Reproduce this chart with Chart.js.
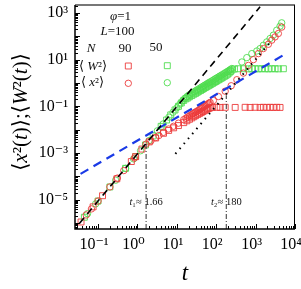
<!DOCTYPE html>
<html><head><meta charset="utf-8">
<script src="https://cdn.jsdelivr.net/npm/chart.js@4.4.0/dist/chart.umd.min.js"></script>
<style>html,body{margin:0;padding:0;background:#fff;overflow:hidden}</style>
</head><body>
<canvas id="c" width="301" height="289"></canvas>
<script>
// ---- tick labels ----
const xTickValues = [0.1, 1, 10, 100, 1000, 10000];
const xTickLabels = ['10⁻¹', '10⁰', '10¹', '10²', '10³', '10⁴'];
const yTickValues = [1e-5, 1e-3, 1e-1, 10, 1000];
const yTickLabels = ['10⁻⁵', '10⁻³', '10⁻¹', '10¹', '10³'];

// ---- N = 90 : <W^2> (red squares) ----
const tW2_90 = [0.037, 0.075, 0.13, 0.3, 0.7, 0.9, 1.3, 2.0, 2.9, 4.6, 6.2, 8.3, 11, 15, 18, 21, 24, 27, 30, 34, 38, 42, 46, 50, 55, 60, 65, 70, 80, 104, 126, 169, 303, 542, 726, 971, 1300, 1575, 1920, 2330, 2820, 3440, 4170];
const W2_90  = [1.1e-6, 4.9e-6, 1.47e-5, 7.8e-5, 4.3e-4, 7.0e-4, 1.47e-3, 3.0e-3, 4.4e-3, 7.0e-3, 9.3e-3, 0.012, 0.015, 0.02, 0.024, 0.028, 0.032, 0.036, 0.040, 0.045, 0.050, 0.055, 0.060, 0.065, 0.071, 0.077, 0.082, 0.087, 0.090, 0.091, 0.090, 0.091, 0.090, 0.091, 0.090, 0.091, 0.090, 0.091, 0.090, 0.091, 0.090, 0.091, 0.090];

// ---- N = 90 : <x^2> (red circles) ----
const tX2_90 = [0.05, 0.068, 0.1, 0.2, 0.31, 0.45, 0.84, 1.66, 2.2, 2.9, 3.5, 4.6, 6.2, 8.3, 11, 15, 17, 19, 21, 23, 25, 27, 29, 31, 34, 37, 40, 43, 46, 50, 54, 58, 62, 66, 70, 85, 114, 169, 240, 334, 491, 657, 879, 1178, 1575, 2109, 2570, 3120, 3780, 4600];
const X2_90  = [2.2e-6, 4.0e-6, 8.7e-6, 3.5e-5, 8.4e-5, 1.76e-4, 6.1e-4, 2.4e-3, 3.3e-3, 4.6e-3, 5.6e-3, 7.7e-3, 0.0107, 0.014, 0.019, 0.027, 0.031, 0.035, 0.039, 0.043, 0.047, 0.051, 0.055, 0.059, 0.065, 0.071, 0.078, 0.084, 0.091, 0.10, 0.109, 0.118, 0.128, 0.138, 0.148, 0.178, 0.264, 0.448, 0.766, 1.39, 2.67, 5.7, 10.1, 18.3, 30, 46, 69, 95, 133, 250];

// ---- N = 50 : <W^2> (green squares) ----
const tW2_50 = [0.045, 0.1, 0.2, 0.5, 0.9, 1.6, 2.5, 4, 5.5, 7, 9, 11, 13, 15, 17, 19, 21, 24, 27, 30, 33, 36, 40, 44, 48, 53, 58, 63, 68, 74, 81, 89, 97, 105, 115, 125, 135, 148, 162, 178, 195, 212, 230, 250, 290, 367, 491, 657, 801, 971, 1178, 1435, 1740, 2109, 2570, 3120, 3780, 5060];
const W2_50  = [1.76e-6, 8.7e-6, 3.5e-5, 2.2e-4, 7.0e-4, 2.2e-3, 5.4e-3, 0.0139, 0.026, 0.043, 0.07, 0.10, 0.14, 0.18, 0.21, 0.23, 0.26, 0.29, 0.33, 0.36, 0.40, 0.44, 0.48, 0.53, 0.58, 0.64, 0.70, 0.76, 0.82, 0.89, 0.97, 1.07, 1.16, 1.26, 1.38, 1.5, 1.62, 1.78, 1.95, 2.15, 2.4, 2.7, 3.1, 3.6, 4.0, 4.1, 4.1, 4.05, 4.1, 4.1, 4.05, 4.1, 4.1, 4.05, 4.1, 4.1, 4.05, 4.1];

// ---- N = 50 : <x^2> (green circles) ----
const tX2_50 = [0.054, 0.087, 0.28, 0.5, 0.8, 1.2, 1.98, 3.2, 4.5, 6.3, 8, 10, 12, 14, 16, 18, 20, 22, 25, 28, 31, 34, 38, 42, 46, 50, 55, 60, 65, 70, 77, 85, 93, 100, 110, 120, 130, 140, 155, 170, 185, 200, 215, 230, 250, 448, 598, 801, 1072, 1300, 1575, 1920, 2330, 2820, 3440, 4170, 4600];
const X2_50  = [2.5e-6, 6.6e-6, 6.8e-5, 2.2e-4, 5.6e-4, 1.25e-3, 3.4e-3, 8.9e-3, 0.0176, 0.0345, 0.056, 0.087, 0.125, 0.17, 0.22, 0.26, 0.30, 0.33, 0.38, 0.43, 0.48, 0.53, 0.59, 0.66, 0.72, 0.79, 0.87, 0.95, 1.03, 1.11, 1.22, 1.35, 1.48, 1.6, 1.76, 1.92, 2.08, 2.25, 2.5, 2.75, 3.0, 3.25, 3.5, 3.8, 4.2, 8.0, 12.3, 18.3, 23.7, 30, 41.8, 58, 81, 113, 185, 275, 382];

// ---- guide lines (data coordinates) ----
const ballisticT = [0.034, 1300];  const ballisticY = [9.8e-7, 1860];
const diffusiveT = [0.036, 5000];  const diffusiveY = [1.27e-4, 15.5];
const dottedT    = [9.2, 2600];    const dottedY    = [9.2e-4, 69];
const crossT     = [1.66, 180];    const crossTop   = [2.8e-3, 0.3];
const crossLabels = ['t₁≈ 1.66', 't₂≈ 180'];
const X_MIN = 0.026, X_MAX = 10000, Y_MIN = 5.5e-7, Y_MAX = 2.2e3;

const RED = '#ec3b3b', GREEN = '#4fdc4f', BLUE = '#1a3ae6';
const SERIF = '"Liberation Serif", "DejaVu Serif", serif';

const pts = (t, v) => t.map((x, i) => ({x, y: v[i]}));

function rich(ctx, segs, x, y, size, align) {
  let w = 0;
  for (const [s, it] of segs) { ctx.font = (it ? 'italic ' : '') + size + 'px ' + SERIF; w += ctx.measureText(s).width; }
  let cx = align === 'center' ? x - w / 2 : x;
  for (const [s, it] of segs) {
    ctx.font = (it ? 'italic ' : '') + size + 'px ' + SERIF;
    ctx.fillText(s, cx, y);
    cx += ctx.measureText(s).width;
  }
}

const decor = {
  id: 'decor',
  afterDatasetsDraw(chart) {
    const {ctx, chartArea: a, scales: {x, y}} = chart;
    ctx.save();
    // inward tick marks
    ctx.strokeStyle = '#000'; ctx.lineWidth = 1;
    for (let e = -3; e <= 4; e++) for (let k = 1; k <= 9; k++) {
      const v = k * Math.pow(10, e);
      if (v < X_MIN || v > X_MAX) continue;
      const px = Math.round(x.getPixelForValue(v)) + 0.5;
      const len = k === 1 ? 5 : 3;
      ctx.beginPath(); ctx.moveTo(px, a.bottom); ctx.lineTo(px, a.bottom - len); ctx.stroke();
    }
    for (let e = -7; e <= 3; e++) for (let k = 1; k <= 9; k++) {
      const v = k * Math.pow(10, e);
      if (v < Y_MIN || v > Y_MAX) continue;
      const py = Math.round(y.getPixelForValue(v)) + 0.5;
      const len = k === 1 ? 5 : 3;
      ctx.beginPath(); ctx.moveTo(a.left, py); ctx.lineTo(a.left + len, py); ctx.stroke();
    }
    // frame
    ctx.strokeStyle = '#777'; ctx.lineWidth = 2;
    ctx.beginPath(); ctx.moveTo(a.left, a.top); ctx.lineTo(a.right, a.top); ctx.stroke();
    ctx.strokeStyle = '#000'; ctx.lineWidth = 1;
    ctx.beginPath(); ctx.moveTo(a.right - 0.5, a.top); ctx.lineTo(a.right - 0.5, a.bottom); ctx.stroke();
    ctx.lineWidth = 1.5;
    ctx.beginPath(); ctx.moveTo(a.left, a.top); ctx.lineTo(a.left, a.bottom); ctx.lineTo(a.right, a.bottom); ctx.stroke();

    // annotations
    ctx.fillStyle = '#111'; ctx.textBaseline = 'middle';
    rich(ctx, [['φ', true], ['=1', false]], 120.5, 17, 13, 'center');
    rich(ctx, [['L', true], ['=100', false]], 117.5, 32, 13, 'center');
    rich(ctx, [['N', true]], 91, 49, 13, 'center');
    rich(ctx, [['90', false]], 125, 49, 13, 'center');
    rich(ctx, [['50', false]], 156, 48, 13, 'center');
    rich(ctx, [['⟨ ', false], ['W', true], ['²', false], ['⟩', false]], 93, 67, 13, 'center');
    rich(ctx, [['⟨ ', false], ['x', true], ['²', false], ['⟩', false]], 92.5, 83, 13, 'center');
    const H = Chart.helpers;
    const mk = (style, r, col, px, py) => { ctx.strokeStyle = col; ctx.lineWidth = 0.9; ctx.fillStyle = 'rgba(0,0,0,0)'; H.drawPoint(ctx, {pointStyle: style, radius: r, borderWidth: 0.9}, px, py); };
    mk('rect', 4.2, RED, 128.3, 66); mk('rect', 4.2, GREEN, 167.3, 65.7);
    mk('circle', 3.2, RED, 128.3, 83.3); mk('circle', 3.2, GREEN, 167.3, 82.7);

    // crossover labels
    ctx.fillStyle = '#111';
    crossT.forEach((t, i) => {
      const lab = crossLabels[i];
      rich(ctx, [[lab.slice(0, 1), true], [lab.slice(1), false]], x.getPixelForValue(t), y.getPixelForValue(8e-6), 10.5, 'center');
    });

    // axis titles
    ctx.fillStyle = '#000';
    ctx.save();
    ctx.translate(21, 112); ctx.rotate(-Math.PI / 2);
    rich(ctx, [['⟨', false], ['x', true], ['²(', false], ['t', true], [')⟩;⟨', false], ['W', true], ['²(', false], ['t', true], [')⟩', false]], 0, 0, 21, 'center');
    ctx.restore();
    rich(ctx, [['t', true]], (a.left + a.right) / 2, 274, 23, 'center');
    ctx.restore();
  }
};

const dash = (t, v, color, width, d) => ({
  data: pts(t, v), showLine: true, borderColor: color, borderWidth: width, borderDash: d,
  pointRadius: 0, fill: false, tension: 0
});
const vline = (i) => dash([crossT[i], crossT[i]], [Y_MIN, crossTop[i]], '#333', 1, [5, 2, 1, 2]);
const marks = (t, v, style, r, color) => ({
  data: pts(t, v), showLine: false, pointStyle: style, pointRadius: r, pointBorderWidth: 0.9,
  borderColor: color, backgroundColor: 'rgba(0,0,0,0)', pointBackgroundColor: 'rgba(0,0,0,0)'
});

new Chart(document.getElementById('c'), {
  type: 'scatter',
  data: { datasets: [
    dash(ballisticT, ballisticY, '#000', 1.6, [7, 5]),
    dash(diffusiveT, diffusiveY, BLUE, 2.2, [9, 6]),
    dash(dottedT, dottedY, '#000', 2, [1.5, 5]),
    vline(0), vline(1),
    marks(tW2_90, W2_90, 'rect', 4.2, RED),
    marks(tX2_90, X2_90, 'circle', 3.2, RED),
    marks(tW2_50, W2_50, 'rect', 4.2, GREEN),
    marks(tX2_50, X2_50, 'circle', 3.2, GREEN)
  ]},
  options: {
    responsive: false, animation: false, devicePixelRatio: 1,
    layout: { padding: { left: 0, right: 6, top: 5, bottom: 0 } },
    plugins: { legend: { display: false }, tooltip: { enabled: false } },
    scales: {
      x: {
        type: 'logarithmic', position: 'bottom', min: X_MIN, max: X_MAX,
        grid: { display: false, drawTicks: false }, border: { display: false },
        afterBuildTicks: s => { s.ticks = xTickValues.map(v => ({ value: v })); },
        ticks: { callback: (v, i) => xTickLabels[i], autoSkip: false, maxRotation: 0, padding: 6, labelOffset: -4,
                 color: '#000', font: { family: SERIF, size: 16 } },
        afterFit: s => { s.height = 60; s.paddingLeft = 0; s.paddingRight = 0; }
      },
      y: {
        type: 'logarithmic', position: 'left', min: Y_MIN, max: Y_MAX,
        grid: { display: false, drawTicks: false }, border: { display: false },
        afterBuildTicks: s => { s.ticks = yTickValues.map(v => ({ value: v })); },
        ticks: { callback: (v, i) => yTickLabels[i], autoSkip: false, padding: 7,
                 color: '#000', font: { family: SERIF, size: 16 } },
        afterFit: s => { s.width = 75; s.paddingTop = 0; s.paddingBottom = 0; }
      }
    }
  },
  plugins: [decor]
});
</script>
</body></html>
